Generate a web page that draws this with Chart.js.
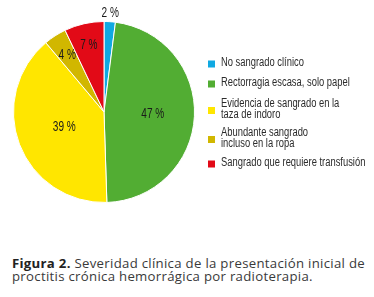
<!DOCTYPE html>
<html lang="es">
<head>
  <meta charset="UTF-8" />
  <title>Figura 2</title>
  <script src="https://cdn.jsdelivr.net/npm/chart.js"></script>
  <style>
    body {
      margin: 0;
      background: #fff;
      width: 374px;
      height: 297px;
      overflow: hidden;
    }
    #wrap {
      position: relative;
      width: 374px;
      height: 257px;
    }
    #caption {
      margin: 0;
      padding: 0 0 0 12px;
      font-family: "Open Sans", sans-serif;
      font-size: 13.2px;
      letter-spacing: 0.3px;
      line-height: 12.5px;
      color: #3a3a3a;
    }
    #caption b { color: #222; }
  </style>
</head>
<body>
  <div id="wrap"><canvas id="myChart"></canvas></div>
  <p id="caption"><b>Figura 2.</b> Severidad clínica de la presentación inicial de<br>proctitis crónica hemorrágica por radioterapia.</p>

  <script>
    const categories = [
      ['No sangrado clínico'],
      ['Rectorragia escasa, solo papel'],
      ['Evidencia de sangrado en la', 'taza de indoro'],
      ['Abundante sangrado', 'incluso en la ropa'],
      ['Sangrado que requiere transfusión']
    ];
    const percentages = [2, 47, 39, 4, 7];
    const colors = ['#10a9e2', '#52ad33', '#ffe600', '#d1b700', '#e20a17'];

    // how far out from the centre each percentage label sits (fraction of radius)
    const labelRadius = [1.09, 0.54, 0.47, 0.75, 0.76];

    // the original uses a condensed face; squeeze Liberation Sans to get close
    function narrowText(ctx, text, x, y, squeeze) {
      ctx.save();
      ctx.translate(x, y);
      ctx.scale(squeeze, 1);
      ctx.fillText(text, 0, 0);
      ctx.restore();
    }

    const pieLabels = {
      id: 'pieLabels',
      afterDatasetsDraw(chart) {
        const ctx = chart.ctx;
        const meta = chart.getDatasetMeta(0);
        ctx.save();
        ctx.font = '14px "Liberation Sans", Arial, sans-serif';
        ctx.fillStyle = '#1a1a1a';
        ctx.textAlign = 'center';
        ctx.textBaseline = 'middle';
        meta.data.forEach((arc, i) => {
          const p = arc.getProps(['x', 'y', 'startAngle', 'endAngle', 'outerRadius']);
          const mid = (p.startAngle + p.endAngle) / 2;
          const r = p.outerRadius * labelRadius[i];
          narrowText(ctx, percentages[i] + ' %', p.x + Math.cos(mid) * r, p.y + Math.sin(mid) * r, 0.72);
        });
        ctx.restore();
      }
    };

    const sideLegend = {
      id: 'sideLegend',
      afterDraw(chart) {
        const ctx = chart.ctx;
        const x0 = 208, boxSize = 7, lineH = 11;
        const tops = [63, 83, 104, 133, 163];
        ctx.save();
        ctx.font = '12.5px "Liberation Sans", Arial, sans-serif';
        ctx.textBaseline = 'middle';
        categories.forEach((lines, i) => {
          const y = tops[i];
          const midY = y + (lines.length - 1) * lineH / 2;
          ctx.fillStyle = colors[i];
          ctx.fillRect(x0, midY - boxSize / 2 + 1, boxSize, boxSize);
          ctx.fillStyle = '#2b2b2b';
          lines.forEach((t, j) => narrowText(ctx, t, x0 + 13, y + j * lineH, 0.75));
        });
        ctx.restore();
      }
    };

    new Chart(document.getElementById('myChart'), {
      type: 'pie',
      data: {
        labels: categories.map(c => c.join(' ')),
        datasets: [{
          data: percentages,
          backgroundColor: colors,
          borderColor: '#ffffff',
          borderWidth: 1
        }]
      },
      options: {
        responsive: true,
        maintainAspectRatio: false,
        animation: false,
        layout: { padding: { left: 13, top: 21, right: 179, bottom: 54 } },
        plugins: {
          legend: { display: false },
          tooltip: { enabled: false }
        }
      },
      plugins: [pieLabels, sideLegend]
    });
  </script>
</body>
</html>
